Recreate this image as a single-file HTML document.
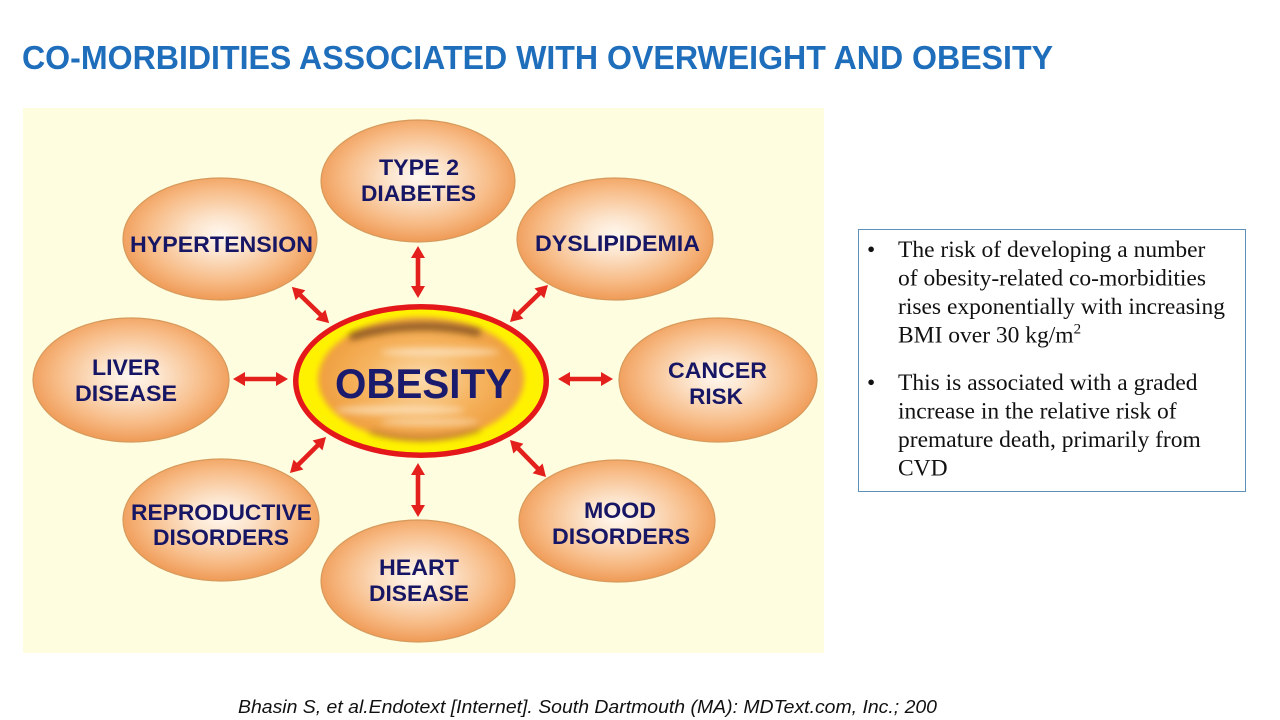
<!DOCTYPE html>
<html>
<head>
<meta charset="utf-8">
<style>
html,body{margin:0;padding:0;background:#fff;}
svg{display:block;}
</style>
</head>
<body>
<svg width="1280" height="720" viewBox="0 0 1280 720" xmlns="http://www.w3.org/2000/svg">
<defs>
  <radialGradient id="eg" cx="50%" cy="47%" r="55%">
    <stop offset="0" stop-color="#FFF8F0"/>
    <stop offset="0.28" stop-color="#FCE4CC"/>
    <stop offset="0.7" stop-color="#F7BA84"/>
    <stop offset="1" stop-color="#EE9650"/>
  </radialGradient>
  <radialGradient id="og" cx="50%" cy="50%" r="55%">
    <stop offset="0" stop-color="#FBDDB0"/>
    <stop offset="0.5" stop-color="#F6B460"/>
    <stop offset="1" stop-color="#EE9A38"/>
  </radialGradient>
  <filter id="b3" x="-20%" y="-20%" width="140%" height="140%"><feGaussianBlur stdDeviation="3"/></filter>
  <filter id="b5" x="-30%" y="-100%" width="160%" height="300%"><feGaussianBlur stdDeviation="3.5"/></filter>
  <clipPath id="innerclip"><ellipse cx="421" cy="381" rx="112" ry="68"/></clipPath>
</defs>

<!-- Title -->
<text x="22" y="69" font-family="Liberation Sans, Arial, sans-serif" font-weight="bold" font-size="33" fill="#1E6EBB" textLength="1031" lengthAdjust="spacingAndGlyphs">CO-MORBIDITIES ASSOCIATED WITH OVERWEIGHT AND OBESITY</text>

<!-- Diagram background -->
<rect x="23" y="108" width="801" height="545" fill="#FEFDDF"/>

<!-- Satellite ellipses -->
<g fill="url(#eg)" stroke="#D69A5C" stroke-width="1.2">
  <ellipse cx="418" cy="181" rx="97" ry="61"/>
  <ellipse cx="220" cy="239" rx="97" ry="61"/>
  <ellipse cx="615" cy="239" rx="98" ry="61"/>
  <ellipse cx="131" cy="380" rx="98" ry="62"/>
  <ellipse cx="718" cy="380" rx="99" ry="62"/>
  <ellipse cx="221" cy="520" rx="98" ry="61"/>
  <ellipse cx="418" cy="581" rx="97" ry="61"/>
  <ellipse cx="617" cy="521" rx="98" ry="61"/>
</g>

<!-- Arrows -->
<g fill="#E3201B">
  <g transform="translate(418,272) rotate(90)"><polygon points="-26,0 -14,-7 -14,-2.3 14,-2.3 14,-7 26,0 14,7 14,2.3 -14,2.3 -14,7"/></g>
  <g transform="translate(418,490) rotate(90)"><polygon points="-27,0 -15,-7 -15,-2.3 15,-2.3 15,-7 27,0 15,7 15,2.3 -15,2.3 -15,7"/></g>
  <g transform="translate(260.5,379)"><polygon points="-27.5,0 -15.5,-7 -15.5,-2.3 15.5,-2.3 15.5,-7 27.5,0 15.5,7 15.5,2.3 -15.5,2.3 -15.5,7"/></g>
  <g transform="translate(585.5,379)"><polygon points="-27.5,0 -15.5,-7 -15.5,-2.3 15.5,-2.3 15.5,-7 27.5,0 15.5,7 15.5,2.3 -15.5,2.3 -15.5,7"/></g>
  <g transform="translate(310.5,305) rotate(44.2)"><polygon points="-26,0 -14,-7 -14,-2.3 14,-2.3 14,-7 26,0 14,7 14,2.3 -14,2.3 -14,7"/></g>
  <g transform="translate(529,303.5) rotate(135.8)"><polygon points="-26.5,0 -14.5,-7 -14.5,-2.3 14.5,-2.3 14.5,-7 26.5,0 14.5,7 14.5,2.3 -14.5,2.3 -14.5,7"/></g>
  <g transform="translate(308,455) rotate(135)"><polygon points="-25.5,0 -13.5,-7 -13.5,-2.3 13.5,-2.3 13.5,-7 25.5,0 13.5,7 13.5,2.3 -13.5,2.3 -13.5,7"/></g>
  <g transform="translate(528,458.5) rotate(45.8)"><polygon points="-25.8,0 -13.8,-7 -13.8,-2.3 13.8,-2.3 13.8,-7 25.8,0 13.8,7 13.8,2.3 -13.8,2.3 -13.8,7"/></g>
</g>

<!-- Central OBESITY ellipse -->
<ellipse cx="421" cy="381" rx="128" ry="77" fill="#E4171A"/>
<ellipse cx="421" cy="381" rx="122.5" ry="71.5" fill="#FFF200"/>
<g clip-path="url(#innerclip)">
  <ellipse cx="421" cy="379" rx="103" ry="62" fill="url(#og)" filter="url(#b3)"/>
  <path d="M350,337 Q415,318 480,333" stroke="#5A3410" stroke-width="7" fill="none" opacity="0.7" filter="url(#b5)"/>
  <path d="M370,432 Q425,446 480,430" stroke="#6A4018" stroke-width="5" fill="none" opacity="0.35" filter="url(#b5)"/>
  <ellipse cx="440" cy="352" rx="60" ry="4" fill="#FFF3DE" opacity="0.6" filter="url(#b5)"/>
  <ellipse cx="400" cy="410" rx="65" ry="5" fill="#FFF3DE" opacity="0.55" filter="url(#b5)"/>
  <ellipse cx="430" cy="422" rx="50" ry="4" fill="#FFF6E6" opacity="0.45" filter="url(#b5)"/>
</g>
<text x="423.5" y="398" text-anchor="middle" font-family="Liberation Sans, Arial, sans-serif" font-weight="bold" font-size="42" fill="#1B1B6E" textLength="177" lengthAdjust="spacingAndGlyphs">OBESITY</text>

<!-- Labels -->
<g font-family="Liberation Sans, Arial, sans-serif" font-weight="bold" font-size="22.5" fill="#161665" text-anchor="middle">
  <text x="419" y="175" textLength="80" lengthAdjust="spacingAndGlyphs">TYPE 2</text>
  <text x="418.5" y="201" textLength="115" lengthAdjust="spacingAndGlyphs">DIABETES</text>
  <text x="221.5" y="252" textLength="183" lengthAdjust="spacingAndGlyphs">HYPERTENSION</text>
  <text x="617.5" y="251" textLength="165" lengthAdjust="spacingAndGlyphs">DYSLIPIDEMIA</text>
  <text x="126" y="375" textLength="68" lengthAdjust="spacingAndGlyphs">LIVER</text>
  <text x="126" y="401" textLength="102" lengthAdjust="spacingAndGlyphs">DISEASE</text>
  <text x="717.5" y="378" textLength="99" lengthAdjust="spacingAndGlyphs">CANCER</text>
  <text x="716" y="404">RISK</text>
  <text x="221.5" y="520" textLength="181" lengthAdjust="spacingAndGlyphs">REPRODUCTIVE</text>
  <text x="221" y="545" textLength="136" lengthAdjust="spacingAndGlyphs">DISORDERS</text>
  <text x="419" y="575" textLength="80" lengthAdjust="spacingAndGlyphs">HEART</text>
  <text x="419" y="601" textLength="100" lengthAdjust="spacingAndGlyphs">DISEASE</text>
  <text x="620" y="518" textLength="72" lengthAdjust="spacingAndGlyphs">MOOD</text>
  <text x="621" y="544" textLength="138" lengthAdjust="spacingAndGlyphs">DISORDERS</text>
</g>

<!-- Text box -->
<rect x="858.5" y="229.5" width="387" height="262" fill="#FFFFFF" stroke="#5E8FB6" stroke-width="1"/>
<g font-family="Liberation Serif, Times New Roman, serif" font-size="23.5" fill="#111" xml:space="preserve">
  <text x="867" y="257">•</text>
  <text x="898" y="257">The risk of developing a number</text>
  <text x="898" y="285.5">of obesity-related co-morbidities</text>
  <text x="898" y="314">rises exponentially with increasing</text>
  <text x="898" y="342.5">BMI over 30 kg/m<tspan font-size="15" dy="-9">2</tspan></text>
  <text x="867" y="390">•</text>
  <text x="898" y="390">This is  associated with a graded</text>
  <text x="898" y="418.5">increase in the relative risk of</text>
  <text x="898" y="447">premature death, primarily from</text>
  <text x="898" y="475.5">CVD</text>
</g>

<!-- Footer -->
<text x="238" y="713" font-family="Liberation Sans, Arial, sans-serif" font-style="italic" font-size="18" fill="#111" textLength="699" lengthAdjust="spacingAndGlyphs">Bhasin S, et al.Endotext [Internet]. South Dartmouth (MA): MDText.com, Inc.; 200</text>
</svg>
</body>
</html>
